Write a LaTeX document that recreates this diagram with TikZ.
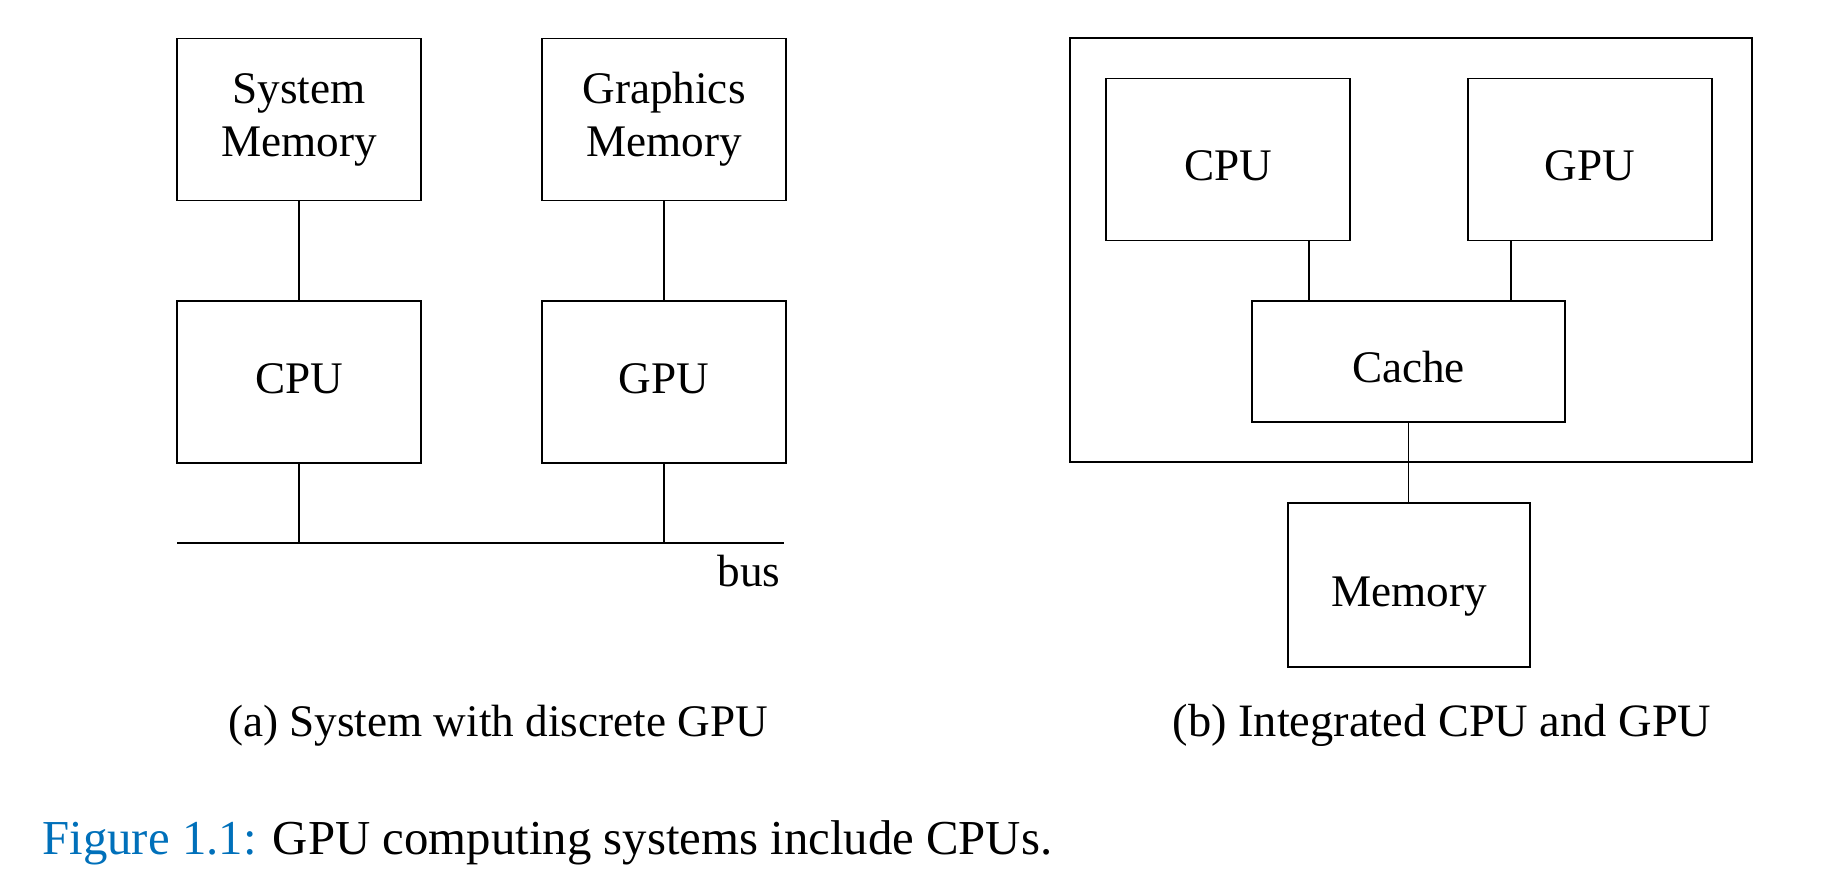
\documentclass[tikz,border=0pt]{standalone}
\usepackage{fontspec}
\setmainfont{Liberation Serif}
\definecolor{figblue}{RGB}{0,112,186}

\begin{document}
\begin{tikzpicture}[x=0.25pt,y=-0.25pt,
  unit/.style={draw, line width=0.35pt, rectangle, inner sep=0pt, minimum width=61pt, minimum height=40.5pt, align=center, font=\fontsize{11.3}{13.25}\selectfont},
  oneline/.style={text height=#1, text depth=0pt},
  link/.style={draw, line width=0.35pt},
  subcap/.style={anchor=base, font=\fontsize{11.4}{13.5}\selectfont}]
\useasboundingbox (0,0) rectangle (1846,892);

% (a) discrete GPU
\node[unit] (sysmem) at (299,119.5) {System\\Memory};
\node[unit] (gfxmem) at (664,119.5) {Graphics\\Memory};
\node[unit, oneline=5.5pt] (cpuA) at (299,382) {CPU};
\node[unit, oneline=5.5pt] (gpuA) at (664,382) {GPU};
\coordinate (busL) at (177,543);
\coordinate (busR) at (784,543);
\node[anchor=base east, inner sep=0pt, font=\fontsize{11.3}{13.25}\selectfont] (buslbl) at (781,586) {bus};

\path[link] (sysmem) -- (cpuA);
\path[link] (gfxmem) -- (gpuA);
\path[link] (busL) -- (busR);
\path[link] (cpuA.south) -- (cpuA.south |- busL);
\path[link] (gpuA.south) -- (gpuA.south |- busL);

% (b) integrated
\node[draw, line width=0.35pt, inner sep=0pt, minimum width=170.5pt, minimum height=106pt] (chip) at (1411,250) {};
\node[unit, oneline=10.5pt] (cpuB) at (1228,159.5) {CPU};
\node[unit, oneline=10.5pt] (gpuB) at (1590,159.5) {GPU};
\node[unit, oneline=10.5pt, minimum width=78.25pt, minimum height=30.25pt] (cache) at (1408.5,361.5) {Cache};
\node[unit, oneline=10.5pt, minimum width=60.5pt, minimum height=41pt] (mem) at (1409,585) {Memory};
\coordinate (cpuTap) at ([xshift=20.25pt]cpuB.south);
\coordinate (gpuTap) at ([xshift=-19.75pt]gpuB.south);

\path[link] (cpuTap) -- (cpuTap |- cache.north);
\path[link] (gpuTap) -- (gpuTap |- cache.north);
\path[link] (cache.south) -- (cache.south |- mem.north);

% captions
\node[subcap, font=\fontsize{11.3}{13.5}\selectfont] (capA) at (498,736) {(a) System with discrete GPU};
\node[subcap, font=\fontsize{11.6}{13.5}\selectfont] (capB) at (1442,736) {(b) Integrated CPU and GPU};
\node[anchor=base west, inner sep=0pt, font=\fontsize{12.2}{14.5}\selectfont] (figcap) at (41.7,854) {\textcolor{figblue}{Figure 1.1:} GPU computing systems include CPUs.};
\end{tikzpicture}
\end{document}
